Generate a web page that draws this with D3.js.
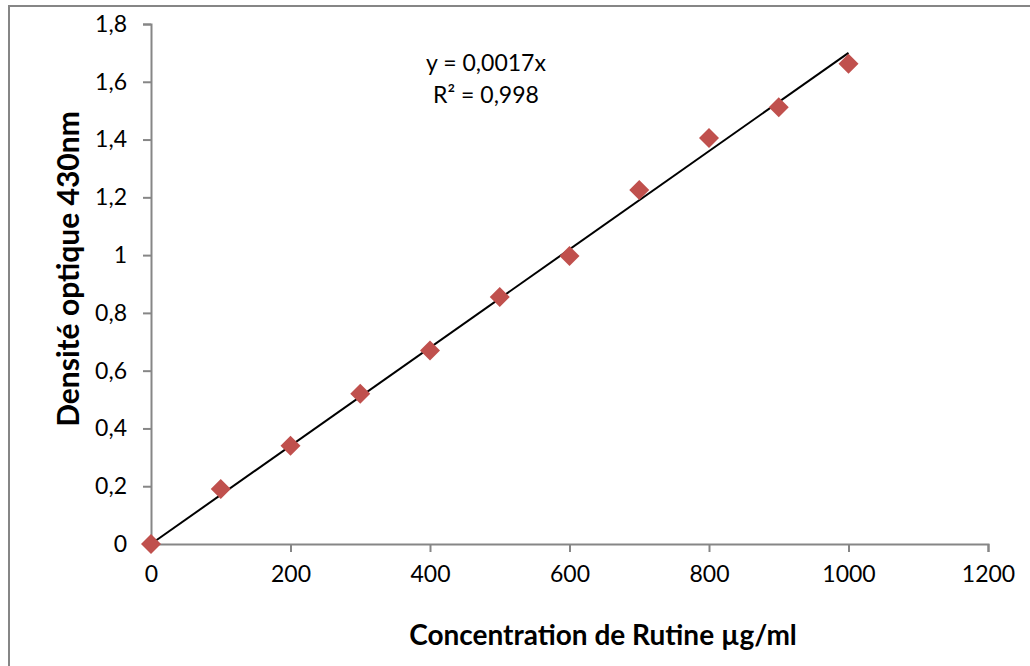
<!DOCTYPE html>
<html>
<head>
<meta charset="utf-8">
<script src="https://cdn.jsdelivr.net/npm/d3@7"></script>
<style>
  body { margin: 0; background: #fff; }
  text { font-family: Lato, "Open Sans", sans-serif; fill: #000; }
</style>
</head>
<body>
<div id="chart"></div>
<script>
"use strict"
var width = 1030,
	height = 666;

// Data
var concentration = [0, 100, 200, 300, 400, 500, 600, 700, 800, 900, 1000];
var absorbance = [0, 0.19, 0.34, 0.52, 0.67, 0.855, 0.997, 1.225, 1.405, 1.512, 1.662];
var xTicks = [0, 200, 400, 600, 800, 1000, 1200];
var yTicks = [0, 0.2, 0.4, 0.6, 0.8, 1, 1.2, 1.4, 1.6, 1.8];
var slope = 0.0017;
var equationLines = ["y = 0,0017x", "R² = 0,998"];
var xTitle = "Concentration de Rutine µg/ml";
var yTitle = "Densité optique 430nm";

var svg = d3.select("#chart").append("svg")
	.attr("width",width)
	.attr("height",height);

// outer chart border
svg.append("rect")
	.attr("x",9).attr("y",6)
	.attr("width",width+20).attr("height",height+20)
	.style("fill","none")
	.style("stroke","#868686")
	.style("stroke-width",2);

var x = d3.scaleLinear().domain([0,1200]).range([151,988]);
var y = d3.scaleLinear().domain([0,1.8]).range([544,24]);
var fmt = function(d){ return String(d).replace(".",","); };

var xAxis = svg.append("g")
	.attr("transform","translate(0,"+y(0)+")")
	.call(d3.axisBottom(x).tickValues(xTicks).tickSize(8).tickPadding(9).tickFormat(fmt));
var yAxis = svg.append("g")
	.attr("transform","translate("+x(0)+",0)")
	.call(d3.axisLeft(y).tickValues(yTicks).tickSize(8).tickPadding(16).tickFormat(fmt));

[xAxis,yAxis].forEach(function(a){
	a.select(".domain").style("stroke","#868686").style("stroke-width",2);
	a.selectAll(".tick line").style("stroke","#868686").style("stroke-width",2);
	a.selectAll(".tick text").style("font-size","23px").style("fill","#000");
});
xAxis.selectAll(".tick text").attr("dy","0.9em");

// trendline y = 0.0017x
var xmax = d3.max(concentration);
svg.append("line")
	.attr("x1",x(0)).attr("y1",y(0))
	.attr("x2",x(xmax)).attr("y2",y(slope*xmax))
	.style("stroke","#000")
	.style("stroke-width",2);

// markers
svg.selectAll("path.pt")
	.data(concentration)
	.enter().append("path")
	.attr("class","pt")
	.attr("d","M0,-10L10,0L0,10L-10,0Z")
	.attr("transform",function(d,i){ return "translate("+x(d)+","+y(absorbance[i])+")"; })
	.style("fill","#C0504D");

// equation label
svg.selectAll("text.eq")
	.data(equationLines)
	.enter().append("text")
	.attr("class","eq")
	.attr("x",486)
	.attr("y",function(d,i){ return 71+i*32; })
	.attr("text-anchor","middle")
	.style("font-size","23px")
	.text(function(d){ return d; });

// axis titles
svg.append("text")
	.attr("x",603).attr("y",645)
	.attr("text-anchor","middle")
	.style("font-size","28px")
	.style("font-weight","bold")
	.text(xTitle);
svg.append("text")
	.attr("transform","translate(79,269) rotate(-90)")
	.attr("text-anchor","middle")
	.style("font-size","30px")
	.style("font-weight","bold")
	.text(yTitle);
</script>
</body>
</html>
